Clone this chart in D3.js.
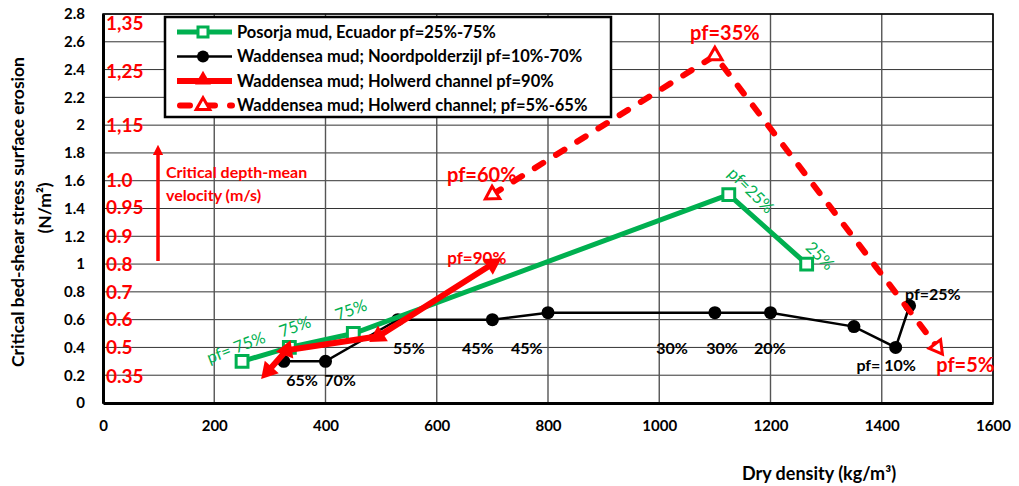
<!DOCTYPE html>
<html>
<head>
<meta charset="utf-8">
<script src="https://cdn.jsdelivr.net/npm/d3@7"></script>
<style>
  body { margin: 0; background: #fff; }
  svg { font-family: Lato, "Open Sans", sans-serif; font-weight: bold; }
</style>
</head>
<body>
<svg id="chart" width="1019" height="486"></svg>
<script>
// series data (dry density kg/m3, critical stress N/m2)
const posorjaX = [250, 335, 450, 1125, 1265];
const posorjaY = [0.3, 0.4, 0.5, 1.5, 1.0];
const noordX = [325, 400, 530, 700, 800, 1100, 1200, 1350, 1425, 1450];
const noordY = [0.3, 0.3, 0.6, 0.6, 0.65, 0.65, 0.65, 0.55, 0.4, 0.7];
const holwerd90X = [700, 495, 330, 297];
const holwerd90Y = [1.0, 0.48, 0.38, 0.23];
const holwerdX = [700, 1100, 1500];
const holwerdY = [1.5, 2.5, 0.4];

const seriesNames = [
  "Posorja mud, Ecuador pf=25%-75%",
  "Waddensea mud; Noordpolderzijl pf=10%-70%",
  "Waddensea mud; Holwerd channel pf=90%",
  "Waddensea mud; Holwerd channel; pf=5%-65%"
];

// secondary velocity scale labels, placed at the stress value they match
const velocityLabels = ["1,35", "1,25", "1,15", "1.0", "0.95", "0.9", "0.8", "0.7", "0.6", "0.5", "0.35"];
const velocityAt = [2.73, 2.39, 2.0, 1.6, 1.41, 1.2, 1.0, 0.8, 0.6, 0.4, 0.19];

const xTicks = d3.range(0, 1601, 200);
const yTicks = d3.range(0, 2.81, 0.2);

// point annotations: text, data x, data y, rotation
const greenNotes = [["pf= 75%", 239, 0.40, -21], ["75%", 345, 0.55, -20], ["75%", 446, 0.67, -20],
  ["pf=25%", 1165, 1.53, 45], ["25%", 1289, 1.06, 45]];
const blackNotes = [["65%", 358, 0.16], ["70%", 426, 0.16], ["55%", 550, 0.39], ["45%", 674, 0.39],
  ["45%", 762, 0.39], ["30%", 1023, 0.39], ["30%", 1113, 0.39], ["20%", 1199, 0.39],
  ["pf= 10%", 1408, 0.27], ["pf=25%", 1492, 0.78]];
const redNotes = [["pf=90%", 672, 1.04, 17], ["pf=60%", 681, 1.64, 20], ["pf=35%", 1118, 2.66, 20], ["pf=5%", 1550, 0.27, 20]];

const GREEN = "#00B050", RED = "#FF0000";
const margin = { top: 14, right: 26, bottom: 83, left: 103 };
const svg = d3.select("#chart");
const width = 1019 - margin.left - margin.right;
const height = 486 - margin.top - margin.bottom;
const g = svg.append("g").attr("transform", `translate(${margin.left},${margin.top})`);

const x = d3.scaleLinear().domain([0, 1600]).range([0, width]);
const y = d3.scaleLinear().domain([0, 2.8]).range([height, 0]);

// grid
g.append("g").selectAll("line").data(yTicks).join("line")
  .attr("x1", 0).attr("x2", width).attr("y1", d => y(d)).attr("y2", d => y(d))
  .attr("stroke", "#333").attr("stroke-width", 1);
g.append("g").selectAll("line").data(xTicks).join("line")
  .attr("x1", d => x(d)).attr("x2", d => x(d)).attr("y1", 0).attr("y2", height)
  .attr("stroke", "#555").attr("stroke-width", 1.4);
g.append("rect").attr("width", width).attr("height", height)
  .attr("fill", "none").attr("stroke", "#000").attr("stroke-width", 1.5);

// axes
const xAxis = g.append("g").attr("transform", `translate(0,${height})`)
  .call(d3.axisBottom(x).tickValues(xTicks).tickSize(0).tickPadding(17).tickFormat(d3.format("d")));
const yAxis = g.append("g")
  .call(d3.axisLeft(y).tickValues(yTicks).tickSize(0).tickPadding(18).tickFormat(d => +d.toFixed(1)));
[xAxis, yAxis].forEach(a => {
  a.select(".domain").attr("stroke", "#000").attr("stroke-width", 3);
  a.selectAll("text").attr("font-size", 15).attr("font-family", "Lato").attr("font-weight", "bold").attr("fill", "#000");
});

// titles
svg.append("text").attr("transform", "translate(24,212) rotate(-90)")
  .attr("text-anchor", "middle").attr("font-size", 17.5).text("Critical bed-shear stress surface erosion");
svg.append("text").attr("transform", "translate(51,208) rotate(-90)")
  .attr("text-anchor", "middle").attr("font-size", 17.5).text("(N/m²)");
svg.append("text").attr("x", 819).attr("y", 480)
  .attr("text-anchor", "middle").attr("font-size", 18).text("Dry density (kg/m³)");

// velocity labels
g.append("g").selectAll("text").data(velocityLabels).join("text")
  .attr("x", 3).attr("y", (d, i) => y(velocityAt[i])).attr("dy", "0.35em")
  .attr("fill", RED).attr("font-size", 19).text(d => d);

// velocity arrow + caption
svg.append("defs").append("marker").attr("id", "ahead")
  .attr("viewBox", "0 0 10 10").attr("refX", 5).attr("refY", 5)
  .attr("markerWidth", 3).attr("markerHeight", 3.4).attr("orient", "auto")
  .append("path").attr("d", "M0,0 L10,5 L0,10 Z").attr("fill", RED);
svg.append("line").attr("x1", 158).attr("x2", 158).attr("y1", 261).attr("y2", 150)
  .attr("stroke", RED).attr("stroke-width", 3.5).attr("marker-end", "url(#ahead)");
svg.append("text").attr("x", 166).attr("y", 178).attr("fill", RED).attr("font-size", 16).text("Critical depth-mean");
svg.append("text").attr("x", 166).attr("y", 201).attr("fill", RED).attr("font-size", 16).text("velocity (m/s)");

const line = d3.line().x(d => x(d[0])).y(d => y(d[1]));
const zip = (a, b) => a.map((v, i) => [v, b[i]]);

function triAngle(pts, i, interior) {
  // direction in screen coords for the triangle tip
  let a, b;
  if (i === 0) { a = pts[1]; b = pts[0]; }
  else if (i === pts.length - 1) { a = pts[i - 1]; b = pts[i]; }
  else if (interior === "up") return 0;
  else { a = pts[i - 1]; b = pts[i]; }
  const dx = x(b[0]) - x(a[0]), dy = y(b[1]) - y(a[1]);
  return Math.atan2(dx, -dy) * 180 / Math.PI;
}

// Noordpolderzijl
const noord = zip(noordX, noordY);
g.append("path").datum(noord).attr("d", line).attr("fill", "none").attr("stroke", "#000").attr("stroke-width", 2.5);
g.append("g").selectAll("circle").data(noord).join("circle")
  .attr("cx", d => x(d[0])).attr("cy", d => y(d[1])).attr("r", 6.5).attr("fill", "#000");

// Posorja
const pos = zip(posorjaX, posorjaY);
g.append("path").datum(pos).attr("d", line).attr("fill", "none").attr("stroke", GREEN).attr("stroke-width", 5);
g.append("g").selectAll("path").data(pos).join("path")
  .attr("transform", d => `translate(${x(d[0])},${y(d[1])})`)
  .attr("d", d3.symbol(d3.symbolSquare, 140)).attr("fill", "#fff").attr("stroke", GREEN).attr("stroke-width", 3);

// Holwerd pf=90%
const h90 = zip(holwerd90X, holwerd90Y);
g.append("path").datum(h90).attr("d", line).attr("fill", "none").attr("stroke", RED).attr("stroke-width", 6);
g.append("g").selectAll("path").data(h90).join("path")
  .attr("transform", (d, i) => `translate(${x(d[0])},${y(d[1])}) rotate(${triAngle(h90, i, "back")})`)
  .attr("d", d3.symbol(d3.symbolTriangle, 150)).attr("fill", RED);

// Holwerd pf=5%-65%
const hd = zip(holwerdX, holwerdY);
g.append("path").datum(hd).attr("d", line).attr("fill", "none").attr("stroke", RED)
  .attr("stroke-width", 6).attr("stroke-dasharray", "10,15").attr("stroke-linecap", "round");
g.append("g").selectAll("path").data(hd).join("path")
  .attr("transform", (d, i) => `translate(${x(d[0])},${y(d[1])}) rotate(${triAngle(hd, i, "up")})`)
  .attr("d", d3.symbol(d3.symbolTriangle, 90)).attr("fill", "#fff").attr("stroke", RED).attr("stroke-width", 3);

// annotations
g.append("g").selectAll("text").data(greenNotes).join("text")
  .attr("transform", d => `translate(${x(d[1])},${y(d[2])}) rotate(${d[3]})`)
  .attr("text-anchor", "middle").attr("dy", "0.35em").attr("font-weight", "normal")
  .attr("fill", GREEN).attr("font-size", 16.5).text(d => d[0]);
g.append("g").selectAll("text").data(blackNotes).join("text")
  .attr("x", d => x(d[1])).attr("y", d => y(d[2])).attr("dy", "0.35em")
  .attr("text-anchor", "middle").attr("font-size", 16).text(d => d[0]);
g.append("g").selectAll("text").data(redNotes).join("text")
  .attr("x", d => x(d[1])).attr("y", d => y(d[2])).attr("dy", "0.35em")
  .attr("text-anchor", "middle").attr("fill", RED).attr("font-size", d => d[3]).text(d => d[0]);

// legend
const leg = svg.append("g").attr("transform", "translate(165,17)");
leg.append("rect").attr("width", 446).attr("height", 100).attr("fill", "#fff").attr("stroke", "#000").attr("stroke-width", 2.5);
const rows = leg.selectAll("g").data(seriesNames).join("g")
  .attr("transform", (d, i) => `translate(0,${15 + i * 24.5})`);
rows.append("text").attr("x", 72).attr("dy", "0.35em").attr("font-size", 16.5).text(d => d);
rows.each(function (d, i) {
  const r = d3.select(this);
  const ln = r.append("line").attr("x1", 12).attr("x2", 67).attr("y1", 0).attr("y2", 0);
  if (i === 0) {
    ln.attr("stroke", GREEN).attr("stroke-width", 5);
    r.append("path").attr("transform", "translate(38,0)").attr("d", d3.symbol(d3.symbolSquare, 100))
      .attr("fill", "#fff").attr("stroke", GREEN).attr("stroke-width", 3);
  } else if (i === 1) {
    ln.attr("stroke", "#000").attr("stroke-width", 2.5);
    r.append("circle").attr("cx", 38).attr("r", 6).attr("fill", "#000");
  } else if (i === 2) {
    ln.attr("stroke", RED).attr("stroke-width", 6);
    r.append("path").attr("transform", "translate(38,-1)").attr("d", d3.symbol(d3.symbolTriangle, 110)).attr("fill", RED);
  } else {
    ln.attr("x1", 15).attr("stroke", RED).attr("stroke-width", 6)
      .attr("stroke-dasharray", "10,15").attr("stroke-linecap", "round");
    r.append("path").attr("transform", "translate(38,0)").attr("d", d3.symbol(d3.symbolTriangle, 80))
      .attr("fill", "#fff").attr("stroke", RED).attr("stroke-width", 3);
  }
});
</script>
</body>
</html>
